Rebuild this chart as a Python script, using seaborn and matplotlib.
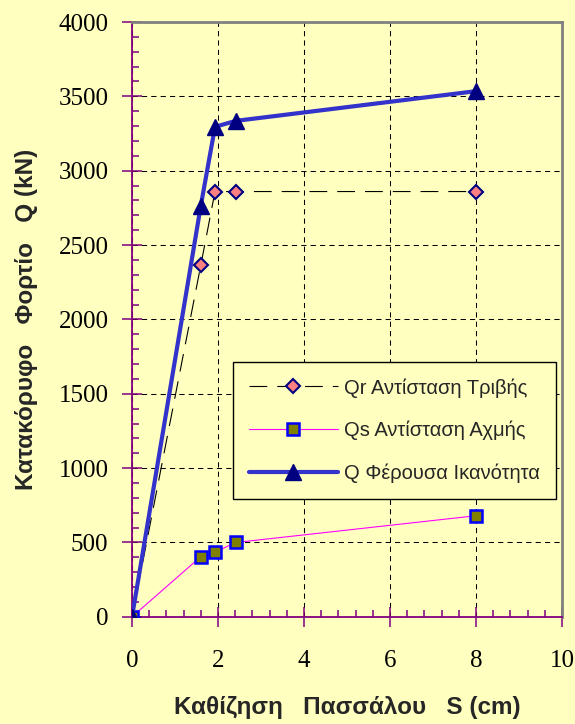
import matplotlib
matplotlib.use("Agg")
import matplotlib.pyplot as plt
import seaborn as sns
import pandas as pd
from matplotlib.ticker import MultipleLocator

# Data
s_qr = [0, 1.6, 1.93, 2.41, 8.0]
qr = [0, 2365, 2860, 2860, 2860]
s_qs = [0, 1.6, 1.93, 2.41, 8.0]
qs = [0, 405, 435, 500, 680]
s_q = [0, 1.6, 1.93, 2.41, 8.0]
q = [0, 2765, 3295, 3335, 3535]
labels = ["Qr Αντίσταση Τριβής", "Qs Αντίσταση Αχμής", "Q Φέρουσα Ικανότητα"]
xlabel = "Καθίζηση   Πασσάλου   S (cm)"
ylabel = "Κατακόρυφο   Φορτίο   Q (kN)"

sns.set_theme(style="white")
plt.rcParams['font.family'] = ['Liberation Sans', 'DejaVu Sans']

bg = "#FFFFC0"
fig = plt.figure(figsize=(5.75, 7.24), dpi=100, facecolor=bg)
ax = fig.add_axes([0.2296, 0.148, 0.7478, 0.8216])
ax.set_facecolor(bg)

df_qr = pd.DataFrame({"S": s_qr, "Q": qr})
df_qs = pd.DataFrame({"S": s_qs, "Q": qs})
df_q = pd.DataFrame({"S": s_q, "Q": q})

sns.lineplot(data=df_qr, x="S", y="Q", ax=ax, sort=False, estimator=None,
             color="black", linewidth=0.8, marker="D", markersize=7.5,
             markerfacecolor="#FF8080", markeredgecolor="#000080",
             markeredgewidth=1.5, label=labels[0], zorder=3)
ax.lines[-1].set_dashes((16, 9))
sns.lineplot(data=df_qs, x="S", y="Q", ax=ax, sort=False, estimator=None,
             color="#FF00FF", linewidth=0.8, marker="s", markersize=8,
             markerfacecolor="#808000", markeredgecolor="#0000FF",
             markeredgewidth=1.8, label=labels[1], zorder=4)
sns.lineplot(data=df_q, x="S", y="Q", ax=ax, sort=False, estimator=None,
             color="#3333CC", linewidth=3, marker="^", markersize=11.5,
             markerfacecolor="#000080", markeredgecolor="#000080",
             markeredgewidth=1, label=labels[2], zorder=5)

ax.set_xlim(0, 10)
ax.set_ylim(0, 4000)
ax.xaxis.set_major_locator(MultipleLocator(2))
ax.xaxis.set_minor_locator(MultipleLocator(0.4))
ax.yaxis.set_major_locator(MultipleLocator(500))
ax.yaxis.set_minor_locator(MultipleLocator(100))

ax.grid(True, which="major", color="black", linestyle=(0, (5, 4)), linewidth=0.75)
ax.set_axisbelow(True)

for side in ["left", "bottom"]:
    ax.spines[side].set_color("#800080")
    ax.spines[side].set_linewidth(1.3)
for side in ["top", "right"]:
    ax.spines[side].set_color("#808080")
    ax.spines[side].set_linewidth(2)

ax.tick_params(which="major", direction="inout", length=14, width=1.1, color="#800080",
               labelsize=18, bottom=True, left=True,
               labelfontfamily="Liberation Serif", labelcolor="black")
ax.tick_params(axis="y", which="major", pad=10)
ax.tick_params(axis="x", which="major", pad=17)
ax.tick_params(which="minor", direction="in", length=5, width=1.1, color="#800080",
               bottom=True, left=True)

ax.set_xlabel(xlabel, fontsize=17.5, fontweight="bold", labelpad=17)
ax.set_ylabel(ylabel, fontsize=17.5, fontweight="bold", labelpad=15)

leg = ax.legend(loc="upper left", bbox_to_anchor=(0.235, 0.4286), fontsize=14.5,
                frameon=True, fancybox=False, edgecolor="black", facecolor=bg,
                framealpha=1, handlelength=4.4, handletextpad=0.3,
                labelspacing=1.15, borderpad=0.8, borderaxespad=0)
leg.get_frame().set_linewidth(1)

fig.savefig("out.png", dpi=100, facecolor=bg)
